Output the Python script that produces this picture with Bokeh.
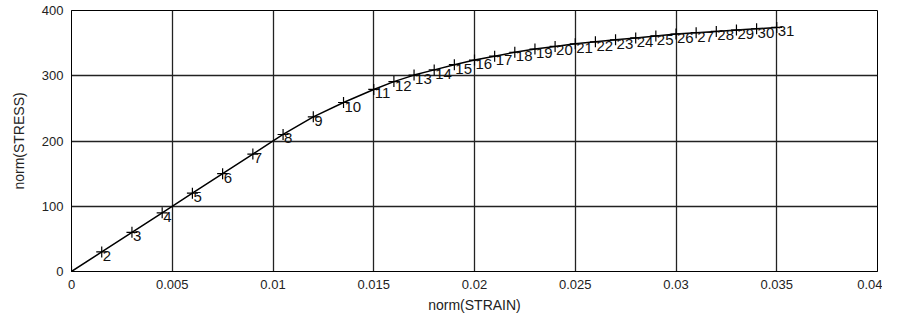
from bokeh.plotting import figure
from bokeh.models import ColumnDataSource, FixedTicker, LabelSet, Range1d
from bokeh.core.properties import value
from bokeh.embed import file_html
from bokeh.resources import INLINE

# Data
point_ids = [str(i) for i in range(1, 32)]
strain = [0.0, 0.0015, 0.003, 0.0045, 0.006, 0.0075, 0.009, 0.0105, 0.012, 0.0135,
          0.015, 0.016, 0.017, 0.018, 0.019, 0.020, 0.021, 0.022, 0.023, 0.024,
          0.025, 0.026, 0.027, 0.028, 0.029, 0.030, 0.031, 0.032, 0.033, 0.034, 0.035]
stress = [0, 30, 60, 90, 120, 150, 180, 210, 237, 259,
          279, 291, 301, 309, 317, 324, 330, 336, 341, 345,
          349, 352, 355, 358, 361, 364, 366, 368, 370, 372, 374]

x_ticks = [0, 0.005, 0.01, 0.015, 0.02, 0.025, 0.03, 0.035, 0.04]
x_tick_labels = ["0", "0.005", "0.01", "0.015", "0.02", "0.025", "0.03", "0.035", "0.04"]
y_ticks = [0, 100, 200, 300, 400]
y_tick_labels = ["0", "100", "200", "300", "400"]

FONT = "Liberation Sans"

src = ColumnDataSource(dict(x=strain, y=stress, lab=point_ids))

p = figure(width=882, height=315, output_backend="svg", toolbar_location=None,
           x_range=Range1d(0, 0.04), y_range=Range1d(0, 400),
           min_border_left=71, min_border_right=5, min_border_top=10, min_border_bottom=5)
p.background_fill_color = "white"
p.border_fill_color = "white"
p.outline_line_color = "black"
p.outline_line_width = 1

p.line("x", "y", source=src, line_color="black", line_width=1.5)
p.scatter("x", "y", source=src, marker="cross", size=11, line_color="black", line_width=1.2)

labels = LabelSet(x="x", y="y", text="lab", source=src, x_offset=1, y_offset=-4,
                  text_font=value(FONT), text_font_size="15px", text_color="#111111",
                  text_align="left", text_baseline="middle")
p.add_layout(labels)

p.xaxis.ticker = FixedTicker(ticks=x_ticks)
p.yaxis.ticker = FixedTicker(ticks=y_ticks)
p.xaxis.major_label_overrides = {t: l for t, l in zip(x_ticks, x_tick_labels)}
p.yaxis.major_label_overrides = {t: l for t, l in zip(y_ticks, y_tick_labels)}

for ax in (p.xaxis, p.yaxis):
    ax.axis_line_color = "black"
    ax.major_tick_out = 0
    ax.major_tick_in = 0
    ax.minor_tick_out = 0
    ax.minor_tick_in = 0
    ax.major_label_text_font = FONT
    ax.major_label_text_font_size = "13px"
    ax.major_label_text_color = "#222222"
    ax.axis_label_text_font = FONT
    ax.axis_label_text_font_size = "14px"
    ax.axis_label_text_font_style = "normal"
    ax.axis_label_text_color = "#222222"

p.xaxis.axis_label = "norm(STRAIN)"
p.yaxis.axis_label = "norm(STRESS)"
p.xaxis.major_label_standoff = 8
p.yaxis.major_label_standoff = 8
p.xaxis.axis_label_standoff = 5
p.yaxis.axis_label_standoff = 12

p.grid.grid_line_color = "#222222"
p.grid.grid_line_width = 1.3
p.grid.grid_line_alpha = 1.0

open("out.html", "w").write(file_html(p, INLINE))
